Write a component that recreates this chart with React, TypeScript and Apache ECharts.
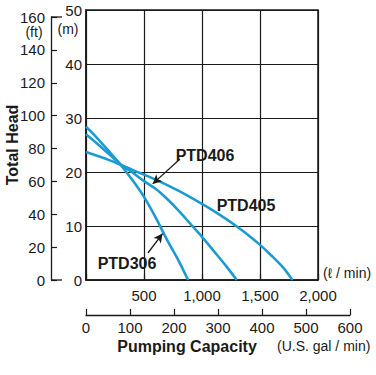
import React, { useEffect, useRef } from "react";
import * as echarts from "echarts";

const flowTicksLpm = [0, 500, 1000, 1500, 2000];
const headTicksM = [0, 10, 20, 30, 40, 50];
const headTicksFt = [0, 20, 40, 60, 80, 100, 120, 140, 160];
const flowTicksGal = [0, 100, 200, 300, 400, 500, 600];

const ptd306Flow = [0, 100, 200, 300, 400, 500, 600, 700, 800, 880];
const ptd306Head = [28.4, 26.2, 23.8, 21.3, 18.5, 15.4, 11.6, 7.4, 3.5, 0];
const ptd406Flow = [0, 100, 200, 300, 400, 500, 600, 700, 800, 900, 1000, 1100, 1200, 1300];
const ptd406Head = [27.0, 25.2, 23.3, 21.4, 19.9, 18.3, 16.9, 15.0, 12.8, 10.4, 8.0, 5.4, 2.8, 0];
const ptd405Flow = [0, 200, 400, 600, 800, 1000, 1100, 1200, 1300, 1400, 1500, 1600, 1700, 1780];
const ptd405Head = [23.7, 22.2, 20.4, 18.6, 16.5, 14.1, 12.8, 11.4, 9.9, 8.3, 6.5, 4.5, 2.3, 0];

const seriesNames = ["PTD306", "PTD406", "PTD405"];

const FONT = "Liberation Sans, Arial, Helvetica, sans-serif";
const CURVE = "#1c9bd3";
const INK = "#1a1a1a";

const zip = (xs: number[], ys: number[]) => xs.map((x, i) => [x, ys[i]]);

export default function App() {
  const ref = useRef<HTMLDivElement>(null);
  useEffect(() => {
    if (!ref.current) return;
    const chart = echarts.init(ref.current, null, { renderer: "svg" });
    const axisFont = { fontFamily: FONT, fontSize: 15, color: INK };
    const curve = (name: string, data: number[][], extra: any = {}) => ({
      name,
      type: "line",
      xAxisIndex: 0,
      yAxisIndex: 0,
      smooth: 0.3,
      showSymbol: false,
      symbol: "none",
      lineStyle: { color: CURVE, width: 2.6 },
      data,
      z: 3,
      ...extra,
    });
    const arrowStyle = { color: INK, width: 1.3, type: "solid" };
    chart.setOption({
      animation: false,
      backgroundColor: "#ffffff",
      grid: [
        { left: 86, right: 58, top: 10, bottom: 95, show: true, borderColor: INK, borderWidth: 1.5 },
        { left: 51, width: 10, top: 17, bottom: 95 },
        { left: 86, width: 264, top: 300, bottom: 60 },
      ],
      xAxis: [
        {
          gridIndex: 0,
          type: "value",
          min: flowTicksLpm[0],
          max: flowTicksLpm[flowTicksLpm.length - 1],
          interval: 500,
          axisLine: { show: true, lineStyle: { color: INK, width: 1.5 } },
          axisTick: { show: true, inside: true, length: 6, lineStyle: { color: INK, width: 1.2 } },
          splitLine: { show: true, lineStyle: { color: INK, width: 1.2 } },
          axisLabel: {
            ...axisFont,
            margin: 8,
            formatter: (v: number) => (v === 0 ? "" : v.toLocaleString("en-US")),
          },
        },
        {
          gridIndex: 1,
          type: "value",
          show: false,
        },
        {
          gridIndex: 2,
          type: "value",
          min: flowTicksGal[0],
          max: flowTicksGal[flowTicksGal.length - 1],
          interval: 100,
          axisLine: { show: true, lineStyle: { color: INK, width: 1.3 } },
          axisTick: { show: true, inside: true, length: 6, lineStyle: { color: INK, width: 1.2 } },
          splitLine: { show: false },
          axisLabel: { ...axisFont, margin: 5 },
        },
      ],
      yAxis: [
        {
          gridIndex: 0,
          type: "value",
          min: headTicksM[0],
          max: headTicksM[headTicksM.length - 1],
          interval: 10,
          axisLine: { show: true, lineStyle: { color: INK, width: 1.5 } },
          axisTick: { show: false },
          splitLine: { show: true, lineStyle: { color: INK, width: 1.2 } },
          axisLabel: { ...axisFont, margin: 4 },
        },
        {
          gridIndex: 1,
          type: "value",
          min: headTicksFt[0],
          max: headTicksFt[headTicksFt.length - 1],
          interval: 20,
          axisLine: { show: true, lineStyle: { color: INK, width: 1.3 } },
          axisTick: { show: true, inside: true, length: 6, lineStyle: { color: INK, width: 1.2 } },
          splitLine: { show: false },
          axisLabel: { ...axisFont, margin: 6 },
        },
        {
          gridIndex: 2,
          type: "value",
          show: false,
        },
      ],
      series: [
        curve(seriesNames[0], zip(ptd306Flow, ptd306Head), {
          markLine: {
            silent: true,
            symbol: ["none", "arrow"],
            symbolSize: [7, 9],
            label: { show: false },
            lineStyle: arrowStyle,
            data: [[{ coord: [534, 5.0] }, { coord: [660, 8.6] }]],
          },
        }),
        curve(seriesNames[1], zip(ptd406Flow, ptd406Head), {
          markLine: {
            silent: true,
            symbol: ["none", "arrow"],
            symbolSize: [7, 9],
            label: { show: false },
            lineStyle: arrowStyle,
            data: [[{ coord: [810, 22.4] }, { coord: [575, 17.8] }]],
          },
        }),
        curve(seriesNames[2], zip(ptd405Flow, ptd405Head)),
      ],
      graphic: [
        { type: "line", shape: { x1: 51, y1: 17, x2: 62, y2: 17 }, style: { stroke: INK, lineWidth: 1.3 } },
        { type: "line", shape: { x1: 51, y1: 280, x2: 62, y2: 280 }, style: { stroke: INK, lineWidth: 1.3 } },
        {
          type: "text",
          x: 34,
          y: 32,
          style: { text: "(ft)", fontFamily: FONT, fontSize: 14, fill: INK, align: "center", verticalAlign: "middle" },
        },
        {
          type: "text",
          x: 68,
          y: 29,
          style: { text: "(m)", fontFamily: FONT, fontSize: 14, fill: INK, align: "center", verticalAlign: "middle" },
        },
        {
          type: "text",
          x: 12,
          y: 145,
          rotation: Math.PI / 2,
          style: {
            text: "Total Head",
            fontFamily: FONT,
            fontSize: 16,
            fontWeight: "bold",
            fill: INK,
            align: "center",
            verticalAlign: "middle",
          },
        },
        {
          type: "text",
          x: 187,
          y: 346,
          style: {
            text: "Pumping Capacity",
            fontFamily: FONT,
            fontSize: 16,
            fontWeight: "bold",
            fill: INK,
            align: "center",
            verticalAlign: "middle",
          },
        },
        {
          type: "text",
          x: 277,
          y: 346,
          style: { text: "(U.S. gal / min)", fontFamily: FONT, fontSize: 14, fill: INK, align: "left", verticalAlign: "middle" },
        },
        {
          type: "text",
          x: 323,
          y: 273,
          style: { text: "(ℓ / min)", fontFamily: FONT, fontSize: 14, fill: INK, align: "left", verticalAlign: "middle" },
        },
        {
          type: "text",
          x: 205,
          y: 155,
          style: {
            text: seriesNames[1],
            fontFamily: FONT,
            fontSize: 16,
            fontWeight: "bold",
            fill: INK,
            align: "center",
            verticalAlign: "middle",
          },
        },
        {
          type: "text",
          x: 246,
          y: 205,
          style: {
            text: seriesNames[2],
            fontFamily: FONT,
            fontSize: 16,
            fontWeight: "bold",
            fill: INK,
            align: "center",
            verticalAlign: "middle",
          },
        },
        {
          type: "text",
          x: 127,
          y: 263,
          style: {
            text: seriesNames[0],
            fontFamily: FONT,
            fontSize: 16,
            fontWeight: "bold",
            fill: INK,
            align: "center",
            verticalAlign: "middle",
          },
        },
      ],
    });
    return () => chart.dispose();
  }, []);
  return (
    <div
      ref={ref}
      style={{ position: "fixed", left: 0, top: 0, width: 376, height: 375, background: "#fff" }}
    />
  );
}
